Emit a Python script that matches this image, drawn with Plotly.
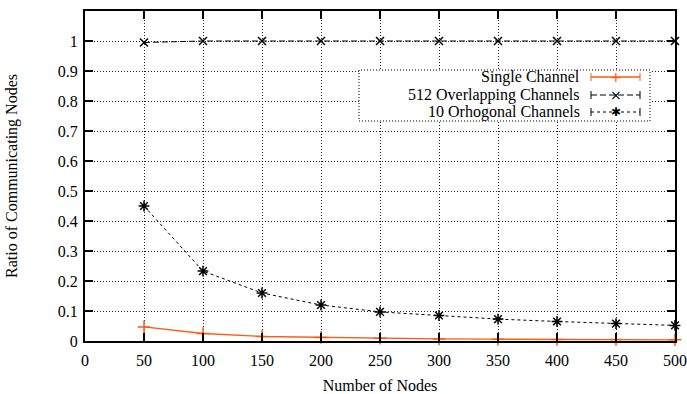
import plotly.graph_objects as go

nodes = [50, 100, 150, 200, 250, 300, 350, 400, 450, 500]
single_channel = [0.047, 0.025, 0.015, 0.012, 0.009, 0.007, 0.006, 0.005, 0.005, 0.004]
overlap_512 = [0.995, 1.0, 1.0, 1.0, 1.0, 1.0, 1.0, 1.0, 1.0, 1.0]
orthogonal_10 = [0.45, 0.233, 0.16, 0.12, 0.097, 0.085, 0.073, 0.065, 0.058, 0.052]
names = ["Single Channel", "512 Overlapping Channels", "10 Orhogonal Channels"]
x_ticks = list(range(0, 501, 50))
y_ticks = [i / 10 for i in range(0, 11)]
y_labels = ["0"] + [f"{v:.1f}" for v in y_ticks[1:10]] + ["1"]

ORANGE = "#ff5a10"
FONT = "Liberation Serif, Times New Roman, serif"
FS = 16

fig = go.Figure()
fig.add_trace(go.Scatter(x=nodes, y=single_channel, mode="lines+markers", name=names[0],
                         line=dict(color=ORANGE, width=1.3),
                         marker=dict(symbol="cross-thin", size=9, line=dict(color=ORANGE, width=1.5)),
                         cliponaxis=False))
fig.add_trace(go.Scatter(x=nodes, y=overlap_512, mode="lines+markers", name=names[1],
                         line=dict(color="black", width=1, dash="6px,3px"),
                         marker=dict(symbol="x-thin", size=8, line=dict(color="black", width=1.5)),
                         cliponaxis=False))
fig.add_trace(go.Scatter(x=nodes, y=orthogonal_10, mode="lines+markers", name=names[2],
                         line=dict(color="black", width=1, dash="3px,3px"),
                         marker=dict(symbol="asterisk-open", size=9, line=dict(color="black", width=1.5)),
                         cliponaxis=False))

# custom gnuplot-style legend (paper coordinates)
L, R, T, B = 85, 675, 11, 341
def px(x): return (x - L) / (R - L)
def py(y): return (B - y) / (B - T)

shapes = [dict(type="rect", xref="paper", yref="paper", x0=px(359), x1=px(650), y0=py(121), y1=py(70),
               line=dict(color="black", width=1, dash="1px,2px"), fillcolor="white", layer="above")]
rows = [77, 95, 112]
styles = [(ORANGE, "solid", "+", 1.3), ("black", "6px,3px", "×", 1), ("black", "3px,3px", "✱", 1)]
annotations = []
for r, nm, (c, d, sym, w) in zip(rows, names, styles):
    annotations.append(dict(xref="paper", yref="paper", x=px(582), y=py(r), text=nm, showarrow=False,
                            xanchor="right", yanchor="middle", font=dict(family=FONT, size=FS, color="black")))
    shapes.append(dict(type="line", xref="paper", yref="paper", x0=px(591), x1=px(640), y0=py(r), y1=py(r),
                       line=dict(color=c, width=w, dash=d), layer="above"))
    for xe in (591, 640):
        shapes.append(dict(type="line", xref="paper", yref="paper", x0=px(xe), x1=px(xe), y0=py(r - 4), y1=py(r + 4),
                           line=dict(color=c, width=1), layer="above"))
    annotations.append(dict(xref="paper", yref="paper", x=px(615.5), y=py(r), text=sym, showarrow=False,
                            xanchor="center", yanchor="middle",
                            font=dict(family="DejaVu Sans", size=14 if sym != "✱" else 12, color=c)))

axis_common = dict(ticks="inside", ticklen=8, tickwidth=2, tickcolor="black", automargin=False,
                   showline=True, linewidth=2, linecolor="black", mirror="ticks",
                   showgrid=True, gridcolor="#222", griddash="1px,2px", gridwidth=1, zeroline=False,
                   tickfont=dict(family=FONT, size=FS, color="black"))

fig.update_layout(
    width=687, height=394,
    margin=dict(l=L, r=687 - R, t=T, b=394 - B),
    paper_bgcolor="white", plot_bgcolor="white",
    showlegend=False,
    font=dict(family=FONT, size=FS, color="black"),
    shapes=shapes, annotations=annotations,
    xaxis=dict(range=[0, 500], tickvals=x_ticks, ticklabelstandoff=4,
               title=dict(text="Number of Nodes", standoff=12, font=dict(family=FONT, size=FS)),
               **axis_common),
    yaxis=dict(range=[0, 1.1], tickvals=y_ticks, ticktext=y_labels, ticklabelstandoff=2,
               title=dict(text="Ratio of Communicating Nodes", standoff=36, font=dict(family=FONT, size=FS)),
               **axis_common),
)
fig.write_html("out.html")
